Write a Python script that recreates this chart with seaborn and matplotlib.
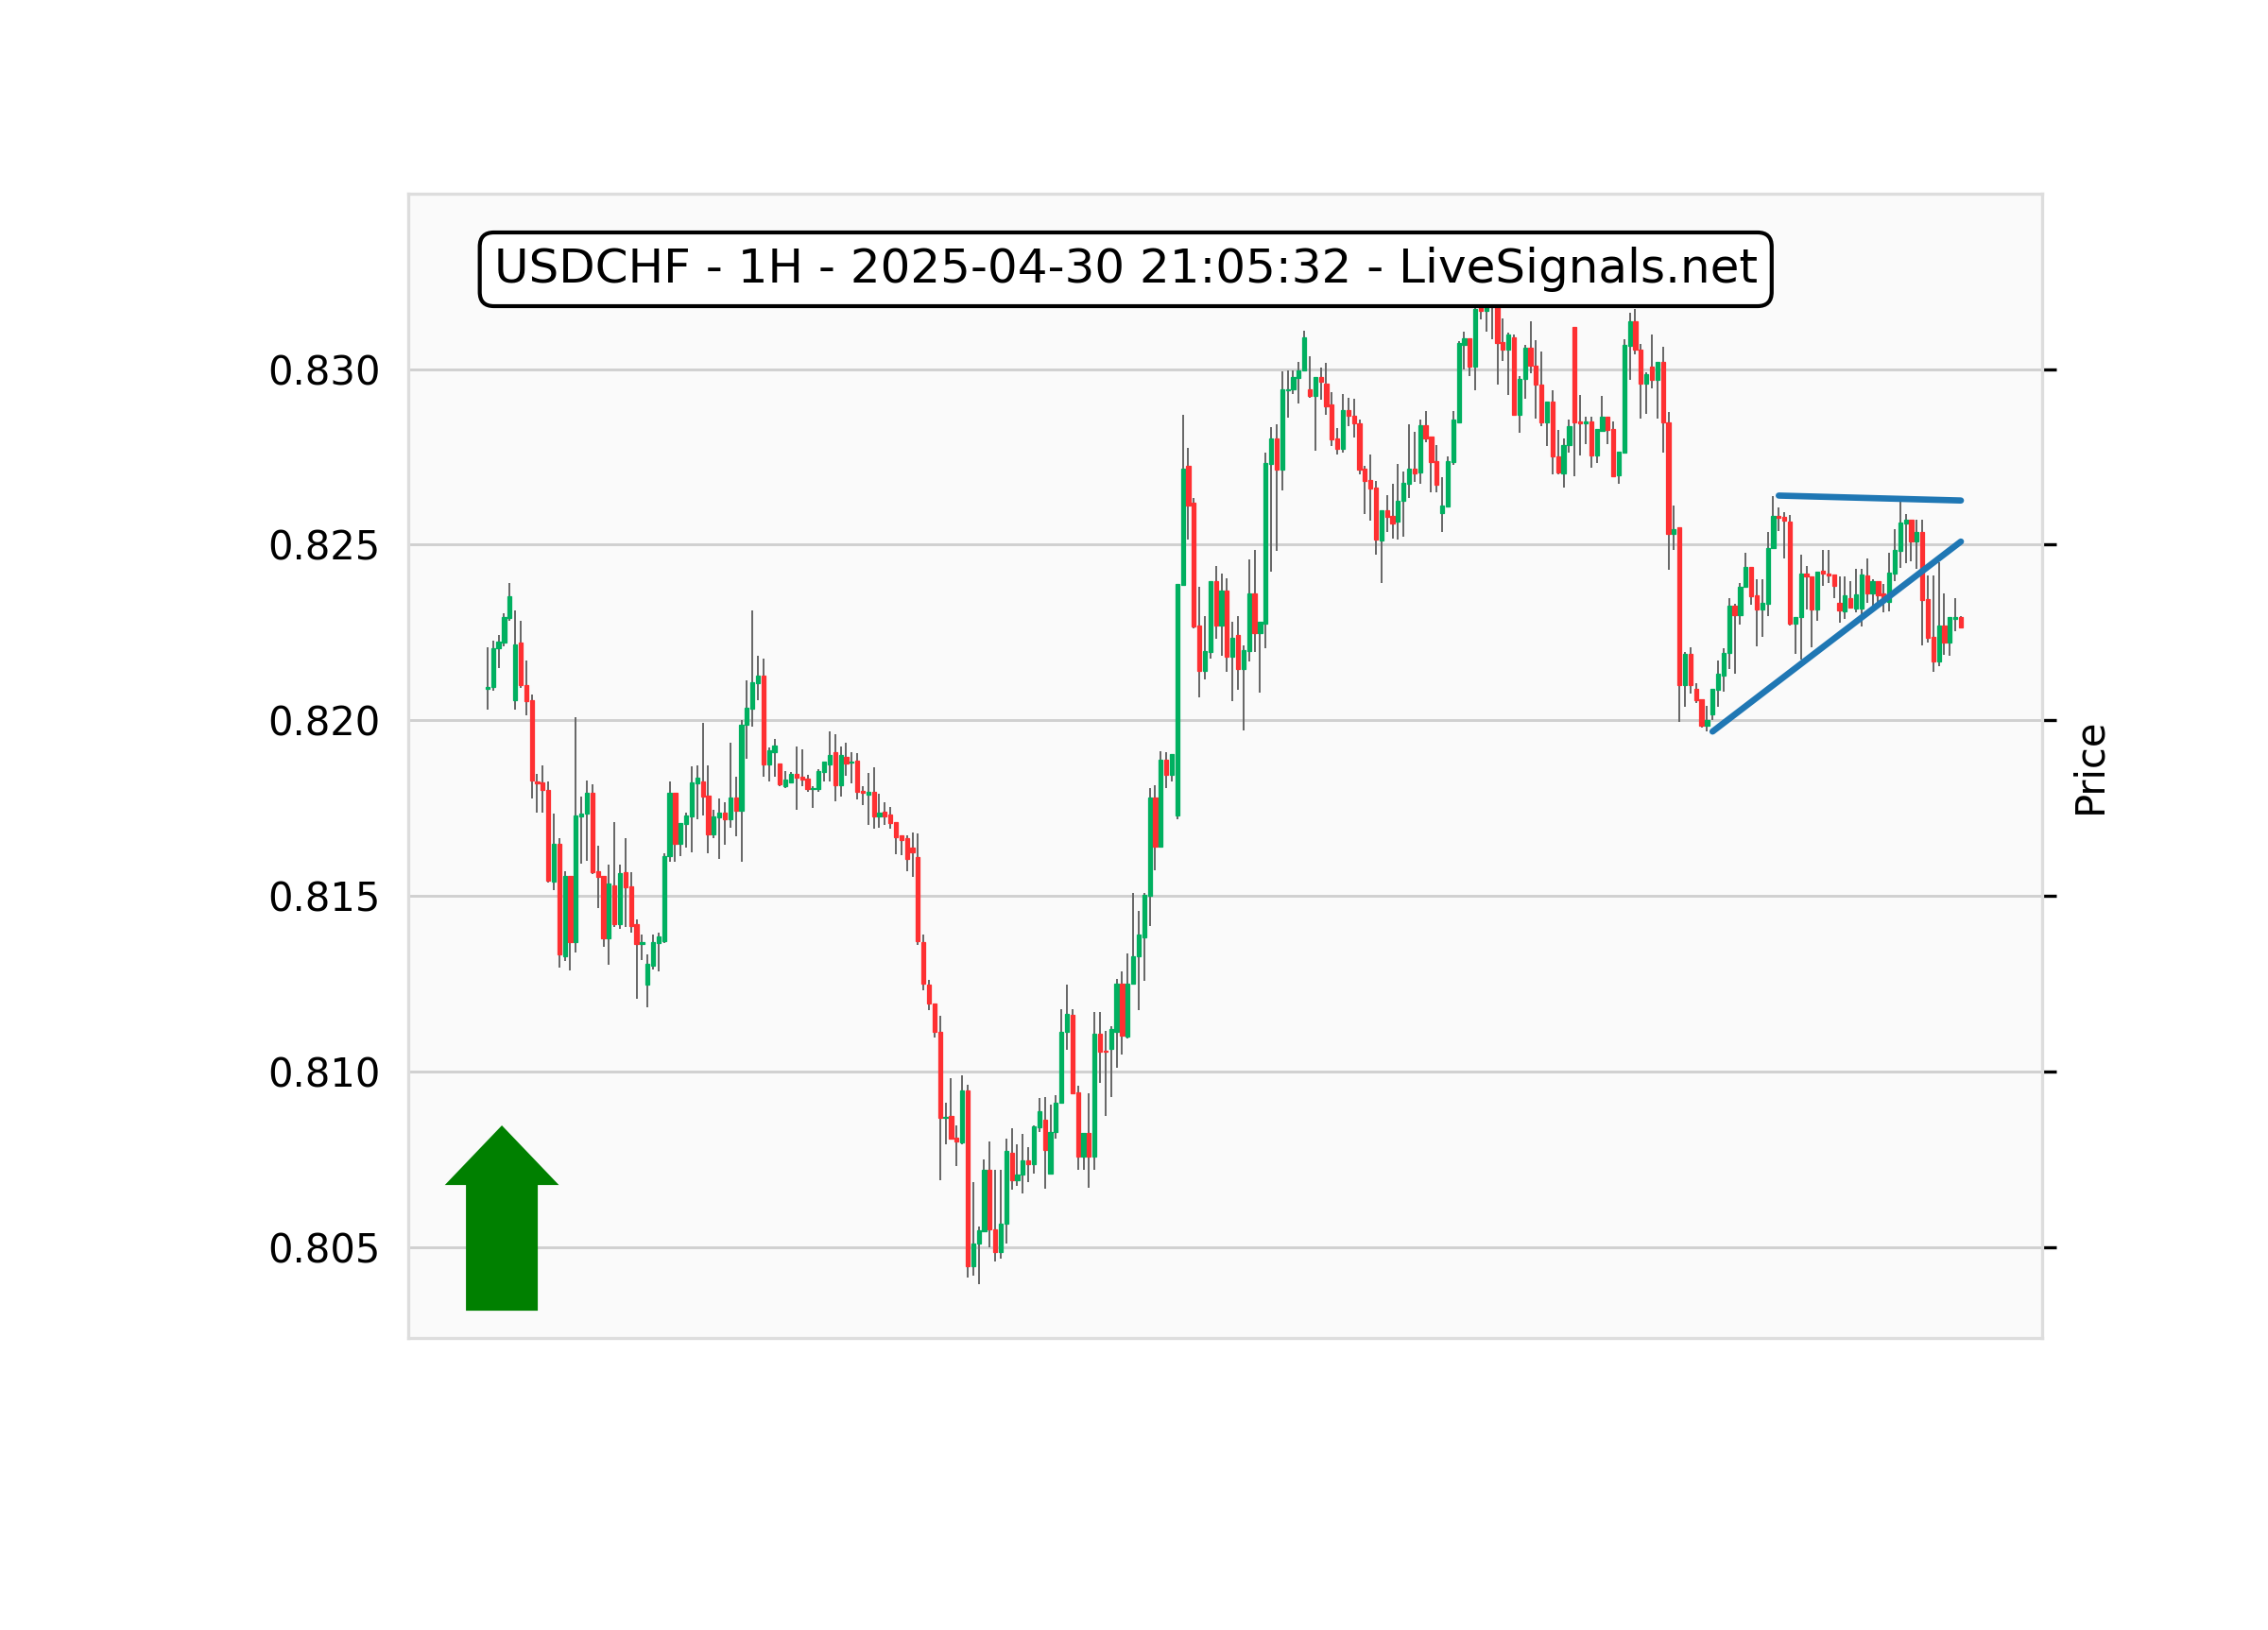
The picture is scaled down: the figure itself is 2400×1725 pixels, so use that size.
import matplotlib
matplotlib.use("Agg")
import matplotlib.pyplot as plt
import numpy as np
import pandas as pd
import seaborn as sns
from matplotlib.ticker import MultipleLocator, FormatStrFormatter

# USDCHF hourly candles (open / high / low / close)
opens = [
    0.82090, 0.82094, 0.82205, 0.82222, 0.82291, 0.82056, 0.82221, 0.82101, 0.82056, 0.81827,
    0.81822, 0.81801, 0.81540, 0.81649, 0.81329, 0.81558, 0.81368, 0.81726, 0.81735, 0.81793,
    0.81569, 0.81558, 0.81378, 0.81531, 0.81419, 0.81567, 0.81526, 0.81419, 0.81363, 0.81248,
    0.81300, 0.81365, 0.81371, 0.81612, 0.81793, 0.81648, 0.81704, 0.81726, 0.81820, 0.81827,
    0.81785, 0.81674, 0.81724, 0.81737, 0.81717, 0.81780, 0.81742, 0.81987, 0.82033, 0.82105,
    0.82126, 0.81874, 0.81909, 0.81876, 0.81813, 0.81824, 0.81847, 0.81839, 0.81833, 0.81805,
    0.81804, 0.81852, 0.81874, 0.81908, 0.81816, 0.81897, 0.81879, 0.81884, 0.81798, 0.81789,
    0.81795, 0.81726, 0.81739, 0.81731, 0.81710, 0.81673, 0.81664, 0.81637, 0.81610, 0.81368,
    0.81248, 0.81194, 0.81113, 0.80867, 0.80874, 0.80811, 0.80798, 0.80945, 0.80445, 0.80511,
    0.80544, 0.80719, 0.80551, 0.80486, 0.80565, 0.80768, 0.80690, 0.80705, 0.80747, 0.80735,
    0.80840, 0.80862, 0.80708, 0.80826, 0.80910, 0.81112, 0.81160, 0.80941, 0.80756, 0.80825,
    0.80757, 0.81106, 0.81059, 0.81063, 0.81113, 0.81250, 0.81100, 0.81249, 0.81329, 0.81383,
    0.81500, 0.81781, 0.81641, 0.81889, 0.81845, 0.81729, 0.82385, 0.82724, 0.82620, 0.82270,
    0.82141, 0.82195, 0.82397, 0.82270, 0.82370, 0.82181, 0.82242, 0.82147, 0.82197, 0.82361,
    0.82248, 0.82275, 0.82730, 0.82802, 0.82715, 0.82939, 0.82943, 0.82975, 0.82996, 0.82942,
    0.82923, 0.82979, 0.82960, 0.82899, 0.82802, 0.82773, 0.82883, 0.82867, 0.82847, 0.82717,
    0.82683, 0.82664, 0.82513, 0.82598, 0.82581, 0.82565, 0.82624, 0.82674, 0.82717, 0.82706,
    0.82840, 0.82807, 0.82737, 0.82589, 0.82609, 0.82735, 0.82849, 0.83069, 0.83087, 0.83008,
    0.83190, 0.83166, 0.83210, 0.83200, 0.83076, 0.83056, 0.83091, 0.82870, 0.82972, 0.83060,
    0.83011, 0.82957, 0.82849, 0.82909, 0.82752, 0.82703, 0.82785, 0.83121, 0.82851, 0.82845,
    0.82852, 0.82753, 0.82825, 0.82865, 0.82829, 0.82697, 0.82762, 0.83067, 0.83136, 0.83056,
    0.82959, 0.83008, 0.82970, 0.83022, 0.82849, 0.82531, 0.82549, 0.82100, 0.82188, 0.82089,
    0.82060, 0.81984, 0.82018, 0.82087, 0.82127, 0.82192, 0.82327, 0.82300, 0.82381, 0.82437,
    0.82356, 0.82316, 0.82332, 0.82491, 0.82583, 0.82579, 0.82567, 0.82275, 0.82293, 0.82419,
    0.82410, 0.82316, 0.82425, 0.82419, 0.82414, 0.82334, 0.82309, 0.82347, 0.82318, 0.82318,
    0.82412, 0.82361, 0.82396, 0.82361, 0.82338, 0.82417, 0.82482, 0.82561, 0.82571, 0.82509,
    0.82535, 0.82344, 0.82237, 0.82168, 0.82271, 0.82222, 0.82290, 0.82295,
]

highs = [
    0.82208, 0.82226, 0.82243, 0.82304, 0.82390, 0.82313, 0.82283, 0.82170, 0.82074, 0.81848,
    0.81872, 0.81825, 0.81735, 0.81664, 0.81570, 0.81558, 0.82008, 0.81782, 0.81829, 0.81818,
    0.81643, 0.81558, 0.81589, 0.81710, 0.81589, 0.81664, 0.81567, 0.81434, 0.81390, 0.81334,
    0.81390, 0.81396, 0.81621, 0.81825, 0.81793, 0.81708, 0.81737, 0.81869, 0.81872, 0.81993,
    0.81872, 0.81746, 0.81778, 0.81767, 0.81935, 0.81840, 0.82001, 0.82114, 0.82313, 0.82184,
    0.82175, 0.81923, 0.81947, 0.81876, 0.81856, 0.81854, 0.81926, 0.81918, 0.81845, 0.81811,
    0.81861, 0.81883, 0.81969, 0.81960, 0.81926, 0.81936, 0.81909, 0.81906, 0.81813, 0.81850,
    0.81865, 0.81791, 0.81767, 0.81753, 0.81710, 0.81673, 0.81673, 0.81681, 0.81678, 0.81389,
    0.81260, 0.81194, 0.81158, 0.80910, 0.80981, 0.80846, 0.80988, 0.80963, 0.80685, 0.80557,
    0.80750, 0.80801, 0.80719, 0.80719, 0.80809, 0.80837, 0.80791, 0.80822, 0.80783, 0.80846,
    0.80923, 0.80927, 0.80905, 0.80932, 0.81178, 0.81246, 0.81176, 0.80959, 0.80825, 0.80939,
    0.81169, 0.81169, 0.81114, 0.81128, 0.81264, 0.81286, 0.81335, 0.81507, 0.81456, 0.81507,
    0.81806, 0.81816, 0.81913, 0.81908, 0.81904, 0.82389, 0.82870, 0.82776, 0.82633, 0.82379,
    0.82297, 0.82397, 0.82440, 0.82418, 0.82404, 0.82280, 0.82296, 0.82212, 0.82458, 0.82485,
    0.82280, 0.82762, 0.82835, 0.82843, 0.82993, 0.82996, 0.82996, 0.83020, 0.83109, 0.83038,
    0.82979, 0.83004, 0.83017, 0.82935, 0.82831, 0.82930, 0.82918, 0.82915, 0.82856, 0.82726,
    0.82758, 0.82682, 0.82598, 0.82641, 0.82673, 0.82730, 0.82709, 0.82843, 0.82822, 0.82856,
    0.82881, 0.82807, 0.82784, 0.82692, 0.82751, 0.82881, 0.83080, 0.83107, 0.83087, 0.83240,
    0.83220, 0.83210, 0.83240, 0.83225, 0.83145, 0.83103, 0.83098, 0.82981, 0.83069, 0.83136,
    0.83083, 0.83049, 0.82909, 0.82939, 0.82827, 0.82802, 0.82857, 0.83121, 0.82926, 0.82865,
    0.82865, 0.82829, 0.82924, 0.82865, 0.82851, 0.82764, 0.83085, 0.83161, 0.83172, 0.83071,
    0.82990, 0.83098, 0.83022, 0.83065, 0.82879, 0.82612, 0.82549, 0.82195, 0.82208, 0.82105,
    0.82060, 0.82042, 0.82089, 0.82170, 0.82204, 0.82349, 0.82332, 0.82392, 0.82477, 0.82437,
    0.82401, 0.82401, 0.82535, 0.82639, 0.82607, 0.82594, 0.82586, 0.82295, 0.82473, 0.82439,
    0.82410, 0.82423, 0.82484, 0.82484, 0.82414, 0.82410, 0.82410, 0.82396, 0.82430, 0.82430,
    0.82462, 0.82403, 0.82396, 0.82387, 0.82477, 0.82544, 0.82623, 0.82587, 0.82571, 0.82570,
    0.82570, 0.82412, 0.82412, 0.82450, 0.82361, 0.82295, 0.82347, 0.82298,
]

lows = [
    0.82029, 0.82085, 0.82150, 0.82210, 0.82284, 0.82029, 0.82093, 0.82013, 0.81778, 0.81737,
    0.81737, 0.81538, 0.81515, 0.81296, 0.81314, 0.81287, 0.81338, 0.81591, 0.81601, 0.81561,
    0.81466, 0.81354, 0.81305, 0.81410, 0.81405, 0.81410, 0.81396, 0.81208, 0.81316, 0.81183,
    0.81289, 0.81286, 0.81365, 0.81598, 0.81596, 0.81612, 0.81637, 0.81625, 0.81719, 0.81730,
    0.81621, 0.81664, 0.81604, 0.81646, 0.81694, 0.81670, 0.81596, 0.81891, 0.81981, 0.82056,
    0.81838, 0.81827, 0.81838, 0.81811, 0.81807, 0.81822, 0.81744, 0.81813, 0.81795, 0.81751,
    0.81795, 0.81827, 0.81827, 0.81770, 0.81784, 0.81842, 0.81821, 0.81775, 0.81759, 0.81703,
    0.81692, 0.81695, 0.81703, 0.81692, 0.81619, 0.81615, 0.81569, 0.81553, 0.81361, 0.81230,
    0.81175, 0.81096, 0.80690, 0.80792, 0.80807, 0.80730, 0.80792, 0.80414, 0.80418, 0.80393,
    0.80544, 0.80499, 0.80459, 0.80466, 0.80511, 0.80663, 0.80674, 0.80652, 0.80685, 0.80708,
    0.80828, 0.80665, 0.80708, 0.80809, 0.80910, 0.81061, 0.80939, 0.80719, 0.80721, 0.80669,
    0.80720, 0.80968, 0.80873, 0.80927, 0.81009, 0.81048, 0.81095, 0.81249, 0.81175, 0.81257,
    0.81413, 0.81573, 0.81641, 0.81806, 0.81825, 0.81719, 0.82385, 0.82516, 0.82262, 0.82064,
    0.82117, 0.82175, 0.82233, 0.82185, 0.82137, 0.82054, 0.82087, 0.81972, 0.82168, 0.82194,
    0.82078, 0.82204, 0.82422, 0.82482, 0.82656, 0.82863, 0.82928, 0.82903, 0.82996, 0.82918,
    0.82767, 0.82913, 0.82871, 0.82780, 0.82757, 0.82762, 0.82837, 0.82805, 0.82700, 0.82587,
    0.82569, 0.82473, 0.82392, 0.82536, 0.82517, 0.82515, 0.82524, 0.82634, 0.82680, 0.82673,
    0.82791, 0.82649, 0.82648, 0.82535, 0.82609, 0.82728, 0.82849, 0.82999, 0.82981, 0.82939,
    0.83141, 0.83108, 0.83085, 0.82957, 0.83024, 0.82926, 0.82870, 0.82820, 0.82915, 0.82988,
    0.82858, 0.82839, 0.82780, 0.82701, 0.82700, 0.82664, 0.82762, 0.82695, 0.82753, 0.82787,
    0.82719, 0.82733, 0.82825, 0.82787, 0.82692, 0.82673, 0.82762, 0.82970, 0.83042, 0.82858,
    0.82872, 0.82945, 0.82858, 0.82762, 0.82428, 0.82484, 0.81995, 0.82038, 0.82075, 0.82048,
    0.81979, 0.81968, 0.82002, 0.82038, 0.82081, 0.82145, 0.82132, 0.82273, 0.82378, 0.82329,
    0.82210, 0.82237, 0.82298, 0.82491, 0.82540, 0.82461, 0.82269, 0.82190, 0.82174, 0.82316,
    0.82208, 0.82284, 0.82383, 0.82392, 0.82347, 0.82278, 0.82289, 0.82322, 0.82307, 0.82266,
    0.82334, 0.82325, 0.82327, 0.82307, 0.82309, 0.82396, 0.82435, 0.82448, 0.82453, 0.82432,
    0.82213, 0.82221, 0.82139, 0.82153, 0.82187, 0.82185, 0.82253, 0.82265,
]

closes = [
    0.82096, 0.82206, 0.82223, 0.82293, 0.82354, 0.82215, 0.82099, 0.82054, 0.81828, 0.81820,
    0.81802, 0.81543, 0.81649, 0.81334, 0.81558, 0.81368, 0.81728, 0.81735, 0.81793, 0.81567,
    0.81553, 0.81378, 0.81535, 0.81419, 0.81565, 0.81524, 0.81414, 0.81362, 0.81368, 0.81307,
    0.81368, 0.81385, 0.81612, 0.81793, 0.81648, 0.81708, 0.81728, 0.81822, 0.81836, 0.81782,
    0.81674, 0.81726, 0.81737, 0.81717, 0.81780, 0.81742, 0.81988, 0.82035, 0.82109, 0.82126,
    0.81874, 0.81914, 0.81927, 0.81818, 0.81830, 0.81847, 0.81836, 0.81830, 0.81804, 0.81806,
    0.81855, 0.81883, 0.81900, 0.81814, 0.81900, 0.81878, 0.81883, 0.81796, 0.81793, 0.81796,
    0.81726, 0.81736, 0.81727, 0.81708, 0.81668, 0.81658, 0.81604, 0.81625, 0.81371, 0.81250,
    0.81194, 0.81112, 0.80867, 0.80871, 0.80809, 0.80800, 0.80945, 0.80445, 0.80511, 0.80547,
    0.80719, 0.80550, 0.80486, 0.80565, 0.80773, 0.80690, 0.80707, 0.80747, 0.80735, 0.80843,
    0.80887, 0.80777, 0.80828, 0.80912, 0.81113, 0.81163, 0.80939, 0.80756, 0.80825, 0.80757,
    0.81106, 0.81055, 0.81056, 0.81121, 0.81250, 0.81103, 0.81250, 0.81329, 0.81391, 0.81504,
    0.81781, 0.81641, 0.81889, 0.81845, 0.81904, 0.82389, 0.82717, 0.82612, 0.82268, 0.82141,
    0.82197, 0.82397, 0.82270, 0.82370, 0.82181, 0.82236, 0.82147, 0.82199, 0.82361, 0.82248,
    0.82280, 0.82733, 0.82802, 0.82715, 0.82943, 0.82943, 0.82977, 0.82997, 0.83091, 0.82923,
    0.82979, 0.82963, 0.82894, 0.82800, 0.82773, 0.82883, 0.82867, 0.82845, 0.82715, 0.82682,
    0.82661, 0.82515, 0.82598, 0.82579, 0.82560, 0.82624, 0.82677, 0.82717, 0.82704, 0.82840,
    0.82804, 0.82735, 0.82670, 0.82612, 0.82737, 0.82856, 0.83074, 0.83087, 0.83008, 0.83172,
    0.83166, 0.83195, 0.83190, 0.83074, 0.83056, 0.83098, 0.82870, 0.82972, 0.83060, 0.83011,
    0.82957, 0.82849, 0.82909, 0.82751, 0.82706, 0.82785, 0.82839, 0.82848, 0.82847, 0.82851,
    0.82753, 0.82829, 0.82865, 0.82827, 0.82695, 0.82764, 0.83069, 0.83136, 0.83056, 0.82959,
    0.82986, 0.82970, 0.83022, 0.82849, 0.82531, 0.82544, 0.82100, 0.82188, 0.82100, 0.82057,
    0.81984, 0.82002, 0.82089, 0.82132, 0.82193, 0.82327, 0.82300, 0.82381, 0.82437, 0.82353,
    0.82316, 0.82334, 0.82491, 0.82583, 0.82578, 0.82568, 0.82275, 0.82295, 0.82419, 0.82410,
    0.82316, 0.82423, 0.82419, 0.82413, 0.82383, 0.82314, 0.82356, 0.82322, 0.82360, 0.82414,
    0.82361, 0.82396, 0.82356, 0.82343, 0.82421, 0.82486, 0.82563, 0.82570, 0.82509, 0.82535,
    0.82343, 0.82235, 0.82168, 0.82271, 0.82222, 0.82293, 0.82295, 0.82265,
]

title_text = "USDCHF - 1H - 2025-04-30 21:05:32 - LiveSignals.net"

# Trend lines (candle index, price)
support_idx = [222, 267]
support_px = [0.81968, 0.82509]
resist_idx = [234, 267]
resist_px = [0.82640, 0.82626]

UP_COLOR = "#00b060"
DOWN_COLOR = "#fe3032"
WICK_COLOR = "#606060"

df = pd.DataFrame({"open": opens, "high": highs, "low": lows, "close": closes})
df["idx"] = np.arange(len(df))
df["up"] = df["close"] >= df["open"]
df["body_low"] = df[["open", "close"]].min(axis=1)
df["body_h"] = (df["close"] - df["open"]).abs()
colors = np.where(df["up"], UP_COLOR, DOWN_COLOR)

sns.set_theme(style="white")
plt.rcParams["font.family"] = ["DejaVu Sans"]
plt.rcParams["text.color"] = "black"

fig = plt.figure(figsize=(8, 5.75), dpi=300)
fig.patch.set_facecolor("white")
ax = fig.add_axes([0.1798, 0.1793, 0.7207, 0.7018])
ax.set_facecolor("#fafafa")

# wicks and bodies
ax.vlines(df["idx"], df["low"], df["high"], color=WICK_COLOR, linewidth=0.45, zorder=2)
ax.bar(df["idx"], df["body_h"], bottom=df["body_low"], width=0.72,
       color=colors, edgecolor=colors, linewidth=0.3, zorder=3)

# trend lines
sns.lineplot(x=support_idx, y=support_px, ax=ax, color="#1f77b4", linewidth=1.6, zorder=4)
sns.lineplot(x=resist_idx, y=resist_px, ax=ax, color="#1f77b4", linewidth=1.6, zorder=4)

# signal arrow
ax.arrow(2.6, 0.80324, 0, 0.00514, width=12.3, head_width=19.0, head_length=0.00156,
         length_includes_head=True, color="green", zorder=5)

ax.text(0.0527, 0.934, title_text, transform=ax.transAxes, fontsize=12, color="black",
        ha="left", va="center", zorder=10,
        bbox=dict(boxstyle="round,pad=0.3", facecolor="white", edgecolor="black", linewidth=1.0))

ax.set_xlim(-14.45, 281.76)
ax.set_ylim(0.802414, 0.834995)
ax.yaxis.set_major_locator(MultipleLocator(0.005))
ax.yaxis.set_major_formatter(FormatStrFormatter("%.3f"))
ax.tick_params(axis="y", left=False, right=True, labelleft=True, labelright=False,
               labelsize=10, length=3.5, width=0.8, color="black", labelcolor="black")
ax.tick_params(axis="x", bottom=False, top=False, labelbottom=False)
ax.grid(False)
ax.yaxis.grid(True, color="#d0d0d0", linewidth=0.7)
ax.set_axisbelow(True)
for s in ax.spines.values():
    s.set_color("#dddddd")
    s.set_linewidth(0.8)

ax.yaxis.set_label_position("right")
ax.set_ylabel("Price", fontsize=10, labelpad=3.5, color="black")
ax.set_xlabel("")

fig.savefig("out.png", dpi=300)
